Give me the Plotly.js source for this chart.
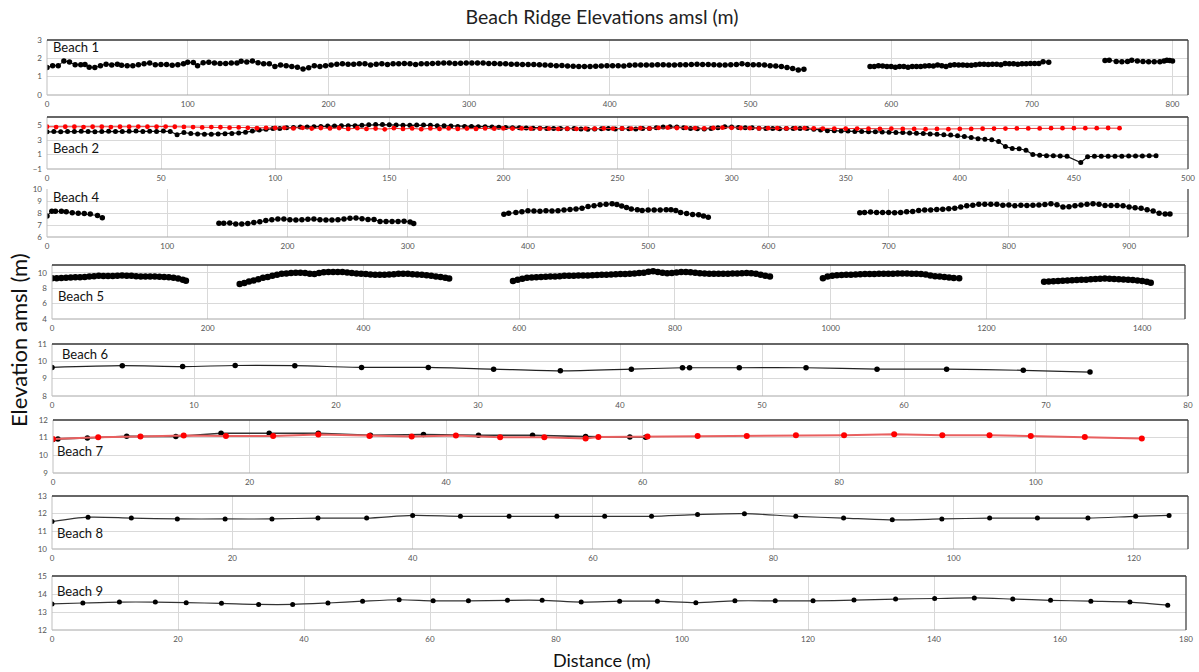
<!DOCTYPE html>
<html><head><meta charset="utf-8">
<script src="https://cdn.plot.ly/plotly-3.0.1.min.js"></script>
<style>html,body{margin:0;padding:0;background:#fff}#chart{width:1199px;height:672px}</style>
</head><body><div id="chart"></div>
<script>
// ---------- DATA ----------
const beachNames = ["Beach 1","Beach 2","Beach 4","Beach 5","Beach 6","Beach 7","Beach 8","Beach 9"];

// Beach 1 (null = gap between surveyed stretches)
const b1X = [0,4,8,12,16,20,24,27,30,34, 38,42,46,50,53,57,61,65,69,73, 77,81,85,89,93,97,100,104,107,111,
 115,119,123,127,131,135,138,142,146,150, 154,158,162,166,170,174,178,182,186,190, 194,198,202,206,210,214,218,222,226,230,
 234,238,242,246,250,254,258,262,266,270, 274,278,282,286,290,294,298,302,306,310, 314,318,322,326,330,334,338,342,346,350,
 354,358,362,366,370,374,378,382,386,390, 394,398,402,406,410,414,418,422,426,430, 434,438,442,446,450,454,458,462,466,470,
 474,478,482,486,490,494,498,502,506,510, 514,518,522,526,530,534,538,
 560,
 585,588,591,594,597,600,603,606,609,612, 615,618,621,624,627,630,633,636,639,642, 645,648,651,654,657,660,663,666,669,672,
 675,678,681,684,687,690,693,696,699,702, 705,708,712,
 730,
 752,755,760,764,768,771,775,779,783,787,791,794,796,798,800];
const b1Y = [1.50,1.60,1.60,1.85,1.80,1.65,1.65,1.66,1.52,1.50, 1.60,1.68,1.64,1.68,1.62,1.60,1.60,1.65,1.70,1.74,
 1.65,1.66,1.66,1.62,1.65,1.70,1.78,1.77,1.60,1.76, 1.78,1.74,1.72,1.72,1.74,1.74,1.84,1.80,1.86,1.76,
 1.70,1.70,1.56,1.64,1.60,1.55,1.52,1.42,1.48,1.60, 1.56,1.60,1.64,1.68,1.70,1.68,1.68,1.70,1.70,1.64,
 1.68,1.70,1.67,1.70,1.71,1.72,1.70,1.67,1.70,1.70, 1.72,1.73,1.74,1.75,1.72,1.73,1.74,1.75,1.75,1.74,
 1.72,1.72,1.70,1.70,1.68,1.68,1.66,1.66,1.66,1.65, 1.63,1.62,1.60,1.61,1.58,1.57,1.56,1.56,1.55,1.57,
 1.58,1.60,1.60,1.60,1.58,1.62,1.63,1.63,1.63,1.64, 1.65,1.65,1.64,1.64,1.65,1.65,1.66,1.68,1.66,1.66,
 1.65,1.64,1.64,1.65,1.66,1.70,1.67,1.65,1.65,1.64, 1.60,1.58,1.55,1.50,1.45,1.36,1.40,
 null,
 1.55,1.55,1.60,1.58,1.55,1.55,1.52,1.55,1.55,1.52, 1.55,1.55,1.55,1.58,1.60,1.58,1.63,1.60,1.55,1.62,
 1.65,1.63,1.63,1.62,1.62,1.65,1.68,1.68,1.67,1.68, 1.68,1.65,1.72,1.70,1.70,1.68,1.70,1.70,1.72,1.72, 1.72,1.82,1.78,
 null,
 1.88,1.90,1.83,1.82,1.83,1.90,1.85,1.83,1.82,1.82,1.82,1.85,1.90,1.88,1.85];

// Beach 2 – black profile
const b2BlackX = [0,3,6,9,12,15,18,21,24,27, 30,33,36,39,42,45,48,51,54,57, 60,63,66,69,72,75,78,81,84,87,
 90,93,96,99,102,105,108,111,114,117, 120,123,126,129,132,135,138,141,144,147, 150,153,156,159,162,165,168,171,174,177,
 180,183,186,189,192,195,198,201,204,207, 210,213,216,219,222,225,228,231,234,237, 240,243,246,249,252,255,258,261,264,267,
 270,273,276,279,282,285,288,291,294,297, 300,303,306,309,312,315,318,321,324,327, 330,333,336,339,342,345,348,351,354,357,
 360,363,366,369,372,375,378,381,384,387, 390,393,396,399,402,405,408,411,414,417, 420,423,426,429,432,435,438,441,444,447,
 453,456,459,462,465,468,471,474,477,480, 483,486];
const b2BlackY = [4.15,4.20,4.15,4.18,4.20,4.22,4.18,4.15,4.20,4.22, 4.20,4.18,4.22,4.25,4.20,4.22,4.20,4.25,4.20,3.75,
 4.05,3.90,3.85,3.80,3.82,3.85,3.88,3.92,4.00,4.10, 4.25,4.40,4.50,4.60,4.62,4.70,4.75,4.80,4.82,4.85,
 4.90,4.95,4.95,4.98,5.00,5.00,5.05,5.12,5.15,5.15, 5.12,5.08,5.05,5.05,5.08,5.10,5.05,5.00,4.98,4.95,
 4.90,4.88,4.90,4.85,4.85,4.80,4.78,4.75,4.72,4.70, 4.68,4.65,4.65,4.60,4.62,4.60,4.58,4.60,4.55,4.52,
 4.55,4.58,4.60,4.55,4.60,4.58,4.55,4.60,4.62,4.70, 4.80,4.85,4.82,4.70,4.62,4.58,4.55,4.62,4.72,4.85,
 4.80,4.75,4.70,4.70,4.65,4.62,4.60,4.58,4.60,4.62, 4.60,4.60,4.50,4.40,4.30,4.30,4.25,4.25,4.20,4.18,
 4.15,4.15,4.12,4.10,4.05,4.05,4.00,3.95,3.90,3.85, 3.80,3.75,3.70,3.60,3.50,3.35,3.20,3.12,3.05,2.80,
 2.10,1.85,1.80,1.60,1.00,0.90,0.85,0.82,0.80,0.75, -0.10,0.70,0.75,0.75,0.75,0.78,0.78,0.80,0.80,0.80, 0.82,0.82];

// Beach 2 – red profile
const b2RedX = [0,4,8,12,16,20,24,28,32,36, 40,44,48,52,56,60,64,68,72,76, 80,84,88,92,96,100,104,108,112,116,
 120,124,128,132,136,140,144,148,152,156, 160,164,168,172,176,180,184,188,192,196, 200,204,208,212,216,220,224,228,232,236,
 240,244,248,252,256,260,264,268,272,276, 280,284,288,292,296,300,304,308,312,316, 320,324,328,332,336,340,
 345,350,355,360,365,370,375,380,385,390, 395,400,405,410,415,420,425,430,435,440, 445,450,455,460,465,470];
const b2RedY = [4.85,4.80,4.85,4.85,4.80,4.85,4.85,4.80,4.85,4.85, 4.88,4.85,4.85,4.88,4.85,4.82,4.80,4.75,4.80,4.78,
 4.72,4.75,4.70,4.65,4.70,4.68,4.70,4.62,4.70,4.60, 4.68,4.62,4.68,4.55,4.65,4.55,4.60,4.50,4.65,4.55,
 4.62,4.52,4.62,4.55,4.62,4.55,4.60,4.55,4.62,4.58, 4.62,4.60,4.62,4.58,4.60,4.60,4.55,4.58,4.55,4.60,
 4.58,4.62,4.60,4.62,4.60,4.65,4.62,4.70,4.72,4.68, 4.70,4.65,4.62,4.68,4.72,4.70,4.68,4.65,4.62,4.65,
 4.65,4.62,4.65,4.65,4.62,4.60,
 4.60,4.58,4.60,4.58,4.55,4.58,4.55,4.55,4.52,4.55, 4.52,4.55,4.55,4.58,4.60,4.60,4.62,4.62,4.62,4.65,
 4.65,4.65,4.65,4.65,4.68,4.65];

// Beach 4
const b4X = [0,4,7,12,16,21,26,31,36,42,46,
 95,
 143,147,152,157,162,167,172,177,182,187, 192,197,202,207,212,217,222,227,232,237, 242,247,252,257,262,267,272,277,282,287, 292,297,302,305,
 340,
 380,384,390,395,400,405,410,415,420,425, 430,435,440,445,450,455,460,465,470,474, 478,482,486,491,495,500,505,510,515,519, 523,527,532,537,542,546,550,
 610,
 676,680,685,690,695,700,705,710,715,720, 725,730,735,740,745,750,755,760,765,770, 775,780,785,790,795,800,805,810,815,820,
 825,830,835,840,845,850,855,860,865,870, 875,880,885,890,895,900,905,910,915,920, 925,930,934];
const b4Y = [7.76,8.15,8.15,8.15,8.10,8.02,7.97,7.95,7.92,7.80,7.60,
 null,
 7.14,7.15,7.16,7.08,7.08,7.12,7.20,7.27,7.38,7.43, 7.51,7.50,7.43,7.41,7.43,7.48,7.50,7.43,7.41,7.41, 7.43,7.50,7.57,7.58,7.52,7.46,7.46,7.30,7.30,7.30, 7.30,7.32,7.24,7.13,
 null,
 7.90,7.97,8.05,8.10,8.19,8.16,8.14,8.19,8.16,8.19, 8.24,8.30,8.33,8.40,8.54,8.60,8.68,8.72,8.78,8.70, 8.58,8.45,8.33,8.27,8.20,8.24,8.24,8.26,8.28,8.28, 8.20,8.05,7.95,7.87,7.85,7.76,7.65,
 null,
 8.03,8.05,8.08,8.05,8.05,8.05,8.03,8.05,8.10,8.12, 8.20,8.24,8.26,8.30,8.32,8.35,8.40,8.50,8.60,8.65, 8.73,8.72,8.73,8.72,8.65,8.66,8.60,8.65,8.63,8.65,
 8.66,8.70,8.78,8.68,8.50,8.53,8.60,8.66,8.72,8.78, 8.72,8.62,8.62,8.62,8.60,8.51,8.43,8.40,8.27,8.16, 7.97,7.92,7.92];

// Beach 5
const b5X = [0,6,12,18,24,30,36,42,48,54, 60,66,72,78,84,90,96,102,108,114, 120,126,132,138,144,150,156,162,168,172,
 205,
 241,247,253,259,265,271,277,283,289,295, 301,307,313,319,325,331,337,343,349,355, 361,367,373,379,385,391,397,403,409,415,
 421,427,433,439,445,451,457,463,469,475, 481,487,493,499,505,510,
 550,
 592,598,604,610,616,622,628,634,640,646, 652,658,664,670,676,682,688,694,700,706, 712,718,724,730,736,742,748,754,760,766,
 772,778,784,790,796,802,808,814,820,826, 832,838,844,850,856,862,868,874,880,886, 892,898,904,910,916,922,
 955,
 990,996,1002,1008,1014,1020,1026,1032,1038,1044, 1050,1056,1062,1068,1074,1080,1086,1092,1098,1104, 1110,1116,1122,1128,1134,1140,1146,1152,1158,1165,
 1220,
 1274,1280,1286,1292,1298,1304,1310,1316,1322,1328, 1334,1340,1346,1352,1358,1364,1370,1376,1382,1388, 1394,1400,1406,1411];
const b5Y = [9.27,9.28,9.30,9.35,9.38,9.40,9.42,9.44,9.50,9.55, 9.60,9.58,9.57,9.56,9.60,9.65,9.62,9.60,9.55,9.50, 9.52,9.52,9.50,9.47,9.44,9.40,9.35,9.25,9.10,8.95,
 null,
 8.54,8.68,8.85,9.00,9.15,9.35,9.45,9.60,9.75,9.85, 9.90,9.95,10.00,10.00,9.95,9.87,9.82,9.95,10.05,10.08, 10.08,10.10,10.08,10.03,9.95,9.90,9.87,9.82,9.78,9.75,
 9.74,9.74,9.76,9.80,9.85,9.88,9.85,9.80,9.78,9.74, 9.68,9.60,9.52,9.45,9.36,9.25,
 null,
 8.94,9.10,9.22,9.35,9.38,9.40,9.45,9.48,9.50,9.52, 9.55,9.60,9.60,9.62,9.65,9.65,9.65,9.68,9.70,9.72, 9.75,9.78,9.80,9.82,9.84,9.86,9.90,9.95,10.00,10.12,
 10.18,10.10,10.00,9.92,9.95,10.02,10.08,10.10,10.05,9.98, 9.92,9.90,9.88,9.85,9.85,9.85,9.87,9.90,9.90,9.92, 9.95,9.92,9.85,9.75,9.60,9.50,
 null,
 9.27,9.50,9.60,9.68,9.70,9.72,9.75,9.78,9.80,9.82, 9.83,9.84,9.85,9.86,9.87,9.88,9.90,9.90,9.90,9.88, 9.86,9.82,9.76,9.65,9.55,9.50,9.45,9.38,9.30,9.27,
 null,
 8.84,8.86,8.90,8.93,8.96,8.98,9.02,9.05,9.08,9.10, 9.15,9.20,9.23,9.25,9.22,9.18,9.15,9.12,9.10,9.05, 9.00,8.92,8.82,8.70];

// Beach 6
const b6X = [0,4.95,9.2,12.9,17.1,21.8,26.5,31.1,35.8,40.8,44.4,44.9,48.4,53.1,58.1,63.0,68.4,73.1];
const b6Y = [9.65,9.75,9.70,9.76,9.75,9.65,9.65,9.55,9.45,9.55,9.63,9.63,9.63,9.63,9.55,9.55,9.48,9.38];

// Beach 7 – black and red profiles
const b7BlackX = [0,0.5,3.5,7.5,12.5,17.1,22,27,32.3,37.7,43.3,48.8,54.2,58.7,60.3];
const b7BlackY = [10.89,10.93,10.98,11.08,11.07,11.25,11.25,11.25,11.14,11.18,11.14,11.14,11.06,11.04,11.02];
const b7RedX = [0,4.6,8.9,13.3,17.6,22.4,27,32.2,36.5,41,45.5,50,54.2,55.5,60.5,65.6,70.6,75.6,80.5,85.6,90.5,95.3,99.5,105,110.8];
const b7RedY = [10.92,11.02,11.06,11.12,11.10,11.10,11.18,11.10,11.06,11.12,11.02,11.02,10.95,11.04,11.06,11.09,11.09,11.13,11.14,11.20,11.14,11.14,11.09,11.04,10.95];

// Beach 8
const b8X = [0,4,8.8,13.9,19.2,24.4,29.5,34.9,40,45.3,50.7,56,61.3,66.5,71.6,76.8,82.5,87.8,93.2,98.7,104,109.3,114.9,120.2,123.9];
const b8Y = [11.55,11.80,11.75,11.70,11.70,11.70,11.75,11.75,11.90,11.85,11.85,11.85,11.85,11.85,11.95,12.00,11.85,11.75,11.65,11.70,11.75,11.75,11.75,11.85,11.90];

// Beach 9
const b9X = [0,4.9,10.7,16.4,21.3,26.9,32.8,38.2,43.8,49.3,55.1,60.5,66.1,72.3,77.8,84,90.1,96.1,102.2,108.4,114.8,120.8,127.3,133.9,140.1,146.4,152.5,158.5,164.9,171.1,177.1];
const b9Y = [13.45,13.50,13.55,13.55,13.52,13.48,13.42,13.42,13.50,13.60,13.68,13.62,13.62,13.65,13.65,13.55,13.60,13.60,13.52,13.62,13.62,13.62,13.66,13.72,13.75,13.78,13.72,13.65,13.60,13.55,13.38];

// axis settings per panel
const xRanges = [[0,811],[0,500],[0,949],[0,1455],[0,80],[0,115.5],[0,126],[0,180]];
const xSteps  = [100,50,100,200,10,20,20,20];
const yRanges = [[0,3],[-1,6.2],[6,10],[4,11],[8,11],[9,12],[10,13],[12,15]];
const yTick0  = [0,-1,6,4,8,9,10,12];
const ySteps  = [1,2,1,2,1,1,1,1];

// ---------- LAYOUT (pixel boxes: left, right, top, bottom) ----------
const W = 1199, H = 672;
const boxes = [[47,1188,40,95],[47,1188,117,169],[47,1188,189,237],[52,1185,265,319],
               [52,1188,344,396],[53,1188,420,473],[52,1188,496,549],[52,1186,576,630]];
const labelPos = [[51,47],[51,148],[51,197],[56,296],[60,354],[55,451],[55,533],[55,591]];
const FONT = "Lato, 'Noto Sans', sans-serif";

const ax = i => (i === 0 ? "" : String(i + 1));

function tr(i, x, y, mColor, mSize, lColor, lWidth, shape) {
  return {type: "scatter", mode: "lines+markers", x: x, y: y,
    xaxis: "x" + ax(i), yaxis: "y" + ax(i),
    marker: {color: mColor, size: mSize},
    line: {color: lColor, width: lWidth, shape: shape || "linear", smoothing: 0.8},
    connectgaps: false, hoverinfo: "skip", showlegend: false};
}

const data = [
  tr(0, b1X, b1Y, "#000", 5.5, "#111", 1),
  tr(1, b2BlackX, b2BlackY, "#000", 5, "#111", 1.2),
  tr(1, b2RedX, b2RedY, "#ff0000", 4.8, "#e83030", 1),
  tr(2, b4X, b4Y, "#000", 5.5, "#111", 1),
  tr(3, b5X, b5Y, "#000", 6.5, "#111", 1.5),
  tr(4, b6X, b6Y, "#000", 5.5, "#222", 1.2, "spline"),
  tr(5, b7BlackX, b7BlackY, "#000", 5.5, "#333", 1.6),
  tr(5, b7RedX, b7RedY, "#ff0000", 6, "#e86060", 2),
  tr(6, b8X, b8Y, "#000", 5, "#333", 1.2, "spline"),
  tr(7, b9X, b9Y, "#000", 5, "#333", 1.2, "spline")
];

const layout = {
  width: W, height: H, margin: {l: 0, r: 0, t: 0, b: 0},
  paper_bgcolor: "#fff", plot_bgcolor: "#fff",
  font: {family: FONT, color: "#222"},
  title: {text: "Beach Ridge Elevations amsl (m)", x: 602 / W, xanchor: "center",
          y: 1 - 17 / H, yanchor: "middle", font: {size: 19.5, color: "#222", family: FONT}},
  shapes: [], annotations: []
};

boxes.forEach((b, i) => {
  const [l, r, t, btm] = b;
  layout["xaxis" + ax(i)] = {
    domain: [l / W, r / W], range: xRanges[i], tick0: 0, dtick: xSteps[i],
    showgrid: true, gridcolor: "#d9d9d9", gridwidth: 1, zeroline: false, showline: false,
    ticks: "", ticklabelstandoff: 3, tickfont: {size: 8, color: "#555", family: FONT},
    anchor: "y" + ax(i), fixedrange: true
  };
  layout["yaxis" + ax(i)] = {
    domain: [1 - btm / H, 1 - t / H], range: yRanges[i], tick0: yTick0[i], dtick: ySteps[i],
    showgrid: true, gridcolor: "#d9d9d9", gridwidth: 1, zeroline: false, showline: false,
    ticks: "", ticklabelstandoff: 4, tickfont: {size: 8, color: "#555", family: FONT},
    anchor: "x" + ax(i), fixedrange: true
  };
  const xr = "x" + ax(i) + " domain", yr = "y" + ax(i) + " domain";
  layout.shapes.push({type: "line", xref: xr, yref: yr, x0: 0, x1: 1, y0: 0, y1: 0, line: {color: "#a6a6a6", width: 1}});
  layout.shapes.push({type: "line", xref: xr, yref: yr, x0: 0, x1: 0, y0: 0, y1: 1, line: {color: "#bfbfbf", width: 1}});
  if (i !== 2) layout.shapes.push({type: "line", xref: xr, yref: yr, x0: 0, x1: 1, y0: 1, y1: 1, line: {color: "#333", width: 1.3}});
  layout.shapes.push({type: "line", xref: xr, yref: yr, x0: 1, x1: 1, y0: 0, y1: 1, line: {color: "#444", width: 1.3}});
  layout.annotations.push({text: beachNames[i], xref: "paper", yref: "paper",
    x: labelPos[i][0] / W, y: 1 - labelPos[i][1] / H, xanchor: "left", yanchor: "middle",
    showarrow: false, font: {size: 13, color: "#111", family: FONT}});
});

layout.annotations.push({text: "Elevation amsl (m)", xref: "paper", yref: "paper",
  x: 18 / W, y: 1 - 340 / H, xanchor: "center", yanchor: "middle", textangle: -90,
  showarrow: false, font: {size: 22, color: "#111", family: FONT}});
layout.annotations.push({text: "Distance (m)", xref: "paper", yref: "paper",
  x: 602 / W, y: 1 - 660 / H, xanchor: "center", yanchor: "middle",
  showarrow: false, font: {size: 18, color: "#111", family: FONT}});

Plotly.newPlot("chart", data, layout, {displayModeBar: false, staticPlot: true});
</script>
</body></html>
